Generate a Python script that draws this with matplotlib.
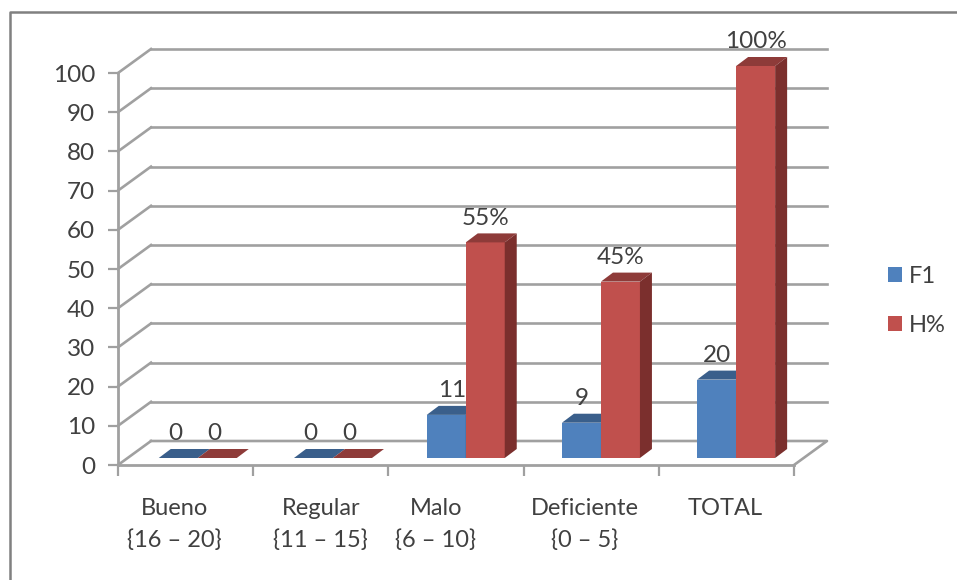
import matplotlib
matplotlib.use("Agg")
import matplotlib.pyplot as plt
from matplotlib.lines import Line2D
from matplotlib.patches import Patch, Polygon

plt.rcParams['font.family'] = ['Lato', 'DejaVu Sans']

categories = ["Bueno\n{16 – 20}", "Regular\n{11 – 15}", "Malo\n{6 – 10}", "Deficiente\n{0 – 5}", "TOTAL"]
f1_values = [0, 0, 11, 9, 20]
h_values = [0, 0, 55, 45, 100]
h_labels = ["0", "0", "55%", "45%", "100%"]
y_ticks = list(range(0, 101, 10))

W, H = 957, 580
GRID = "#a0a0a0"
TEXT = "#404040"

fig = plt.figure(figsize=(W / 100, H / 100), dpi=100, facecolor="white")
# axes box is the front plane of the fake 3d chart
ax = fig.add_axes([118 / W, 1 - 465 / H, 676 / W, 392 / H])
ax.set_xlim(0, 5)
ax.set_ylim(0, 100)
ax.patch.set_visible(False)

px_x = 5 / 676
px_y = 100 / 392
# depth of the walls, and of the bars
wall_dx, wall_dy = 33 * px_x, 24 * px_y
bar_dx, bar_dy = 12 * px_x, 9 * px_y
bar_base = 7 * px_y
bar_w = 39 * px_x

# walls
for v in y_ticks:
    ax.plot([0, wall_dx], [v, v + wall_dy], color=GRID, lw=1.9, clip_on=False, zorder=1)
    if v > 0:
        ax.plot([wall_dx, 5 + wall_dx], [v + wall_dy, v + wall_dy], color=GRID, lw=1.9, clip_on=False, zorder=1)
ax.plot([wall_dx, 5 + wall_dx, 5], [wall_dy, wall_dy, 0], color=GRID, lw=1.9, clip_on=False, zorder=1)


def draw_bars(xs, values, front, top, side):
    ax.bar(xs, values, bar_w, bottom=bar_base, color=front, clip_on=False, zorder=3)
    for x, v in zip(xs, values):
        l, r = x - bar_w / 2, x + bar_w / 2
        t = v + bar_base
        ax.add_patch(Polygon([(l, t), (r, t), (r + bar_dx, t + bar_dy), (l + bar_dx, t + bar_dy)],
                             facecolor=top, edgecolor="none", clip_on=False, zorder=3))
        if v > 0:
            ax.add_patch(Polygon([(r, bar_base), (r + bar_dx, bar_base + bar_dy), (r + bar_dx, t + bar_dy), (r, t)],
                                 facecolor=side, edgecolor="none", clip_on=False, zorder=3))


# the flat bars sit a little further right than the others
bar_shift = [0.59, 0.59, 0.572, 0.572, 0.572]
centers = [i + s for i, s in enumerate(bar_shift)]
xs_f1 = [c - bar_w / 2 for c in centers]
xs_h = [c + bar_w / 2 for c in centers]
draw_bars(xs_f1, f1_values, "#4f81bd", "#3a5f8b", "#3a5f8b")
draw_bars(xs_h, h_values, "#c0504d", "#8e3b39", "#7b2f2d")

# value labels, nudged by hand in the source (pixels)
f1_nudge = [-3, -3, 6, 0, 0]
h_nudge = [-3, -3, 0, 0, 0]
for x, v, n in zip(xs_f1, f1_values, f1_nudge):
    ax.text(x + n * px_x, v + bar_base + 24 * px_y, str(v), ha="center", va="center",
            fontsize=17.5, color=TEXT, clip_on=False, zorder=4)
for x, v, s, n in zip(xs_h, h_values, h_labels, h_nudge):
    ax.text(x + n * px_x, v + bar_base + 24 * px_y, s, ha="center", va="center",
            fontsize=17.5, color=TEXT, clip_on=False, zorder=4)

# axis
for s in ("top", "right"):
    ax.spines[s].set_visible(False)
for s in ("left", "bottom"):
    ax.spines[s].set_color(GRID)
    ax.spines[s].set_linewidth(2)
ax.set_yticks(y_ticks)
ax.set_xticks(range(6))
ax.set_xticklabels([])
ax.tick_params(axis="y", length=7.5, width=1.6, color=GRID, labelcolor=TEXT, labelsize=17.5, pad=9)
ax.tick_params(axis="x", length=8, width=1.6, color=GRID)

# category labels sit off-centre in the source
label_x = [0.415, 1.50, 2.35, 3.45, 4.49]
for x, c in zip(label_x, categories):
    ax.text(x, -33 * px_y, c, ha="center", va="top", fontsize=17, color=TEXT, linespacing=1.6, clip_on=False)

handles = [Patch(facecolor="#4f81bd", label="F1"), Patch(facecolor="#c0504d", label="H%")]
fig.legend(handles=handles, loc="center left", bbox_to_anchor=(888 / W, 1 - 301 / H), frameon=False,
           fontsize=17, labelcolor=TEXT, handlelength=0.6, handleheight=0.6,
           handletextpad=0.27, labelspacing=1.2, borderpad=0, borderaxespad=0)

# outer frame of the pasted picture
fig.add_artist(Line2D([10 / W, 10 / W, 1], [0, 1 - 12 / H, 1 - 12 / H], color="#808080", lw=1.8))

fig.savefig("out.png", dpi=100)
